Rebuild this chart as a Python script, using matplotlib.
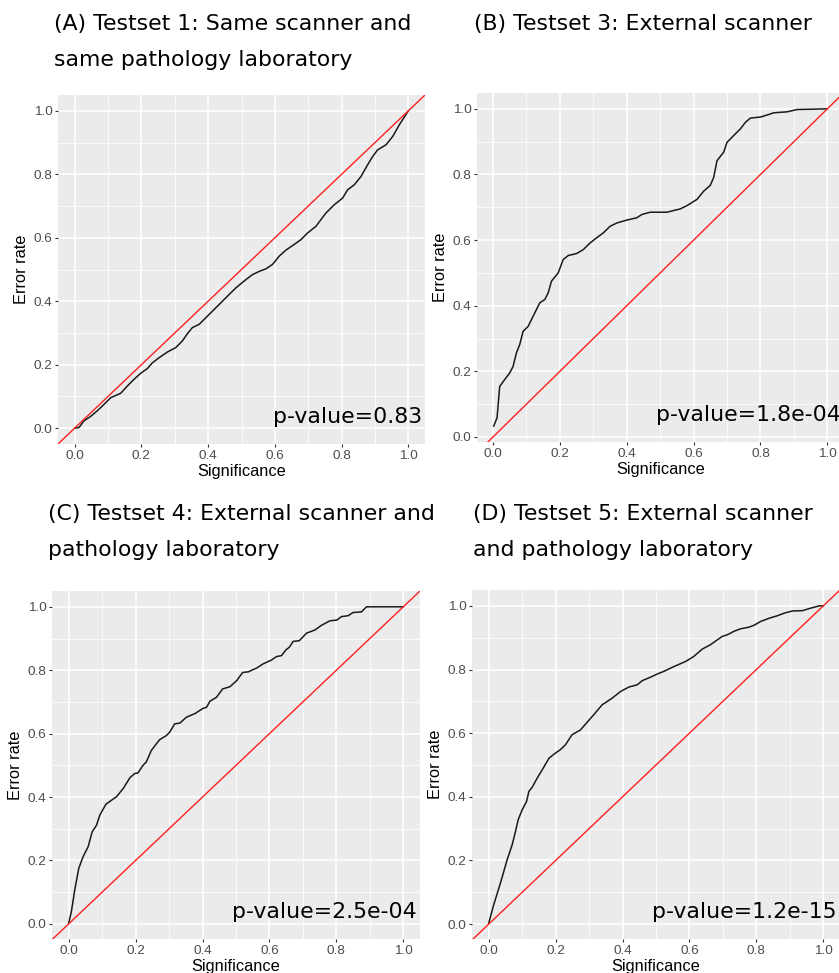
import matplotlib
matplotlib.use('Agg')
import matplotlib.pyplot as plt
from matplotlib.ticker import MultipleLocator

# ---------------- data ----------------
titles = [
    ["(A) Testset 1: Same scanner and", "same pathology laboratory"],
    ["(B) Testset 3: External scanner"],
    ["(C) Testset 4: External scanner and", "pathology laboratory"],
    ["(D) Testset 5: External scanner", "and pathology laboratory"],
]
pvalues = ["p-value=0.83", "p-value=1.8e-04", "p-value=2.5e-04", "p-value=1.2e-15"]

a_x = [0.0, 0.013, 0.028, 0.048, 0.068, 0.088, 0.108, 0.138, 0.158, 0.178, 0.198, 0.218, 0.233,
       0.253, 0.278, 0.303, 0.323, 0.338, 0.353, 0.373, 0.393, 0.418, 0.438, 0.458, 0.483, 0.513,
       0.533, 0.553, 0.573, 0.593, 0.613, 0.633, 0.658, 0.678, 0.698, 0.723, 0.753, 0.778, 0.803,
       0.818, 0.838, 0.858, 0.878, 0.893, 0.908, 0.933, 0.953, 0.973, 1.0]
a_y = [0.0, 0.002, 0.023, 0.037, 0.055, 0.075, 0.096, 0.11, 0.133, 0.154, 0.173, 0.188, 0.206,
       0.222, 0.240, 0.254, 0.275, 0.298, 0.317, 0.327, 0.348, 0.374, 0.395, 0.416, 0.442, 0.468,
       0.484, 0.494, 0.502, 0.516, 0.542, 0.561, 0.579, 0.594, 0.615, 0.636, 0.678, 0.704, 0.725,
       0.751, 0.767, 0.793, 0.830, 0.856, 0.877, 0.893, 0.919, 0.956, 1.0]

b_x = [0.002, 0.012, 0.02, 0.035, 0.05, 0.06, 0.07, 0.08, 0.09, 0.105, 0.12, 0.14, 0.155, 0.165,
       0.175, 0.195, 0.21, 0.225, 0.25, 0.27, 0.29, 0.31, 0.33, 0.35, 0.37, 0.40, 0.43, 0.445,
       0.47, 0.52, 0.56, 0.58, 0.61, 0.63, 0.65, 0.66, 0.67, 0.69, 0.70, 0.725, 0.74, 0.755, 0.77,
       0.80, 0.825, 0.84, 0.88, 0.91, 1.0]
b_y = [0.033, 0.058, 0.154, 0.175, 0.195, 0.215, 0.256, 0.282, 0.322, 0.337, 0.368, 0.409, 0.419,
       0.439, 0.475, 0.50, 0.541, 0.553, 0.559, 0.571, 0.591, 0.607, 0.622, 0.642, 0.652, 0.661,
       0.668, 0.678, 0.685, 0.685, 0.695, 0.705, 0.724, 0.749, 0.767, 0.791, 0.842, 0.868, 0.898,
       0.924, 0.939, 0.959, 0.972, 0.975, 0.983, 0.988, 0.991, 0.998, 1.0]

c_x = [0.0, 0.008, 0.018, 0.03, 0.043, 0.058, 0.07, 0.083, 0.093, 0.111, 0.128, 0.143, 0.163,
       0.183, 0.197, 0.207, 0.222, 0.232, 0.247, 0.262, 0.272, 0.292, 0.302, 0.317, 0.332, 0.352,
       0.377, 0.402, 0.412, 0.422, 0.442, 0.46, 0.482, 0.502, 0.52, 0.537, 0.562, 0.581, 0.606,
       0.621, 0.636, 0.649, 0.659, 0.671, 0.689, 0.711, 0.736, 0.756, 0.781, 0.801, 0.815, 0.835,
       0.850, 0.875, 0.890, 1.0]
c_y = [0.002, 0.039, 0.107, 0.175, 0.212, 0.243, 0.290, 0.311, 0.343, 0.377, 0.390, 0.401, 0.427,
       0.461, 0.474, 0.476, 0.500, 0.511, 0.547, 0.568, 0.581, 0.594, 0.605, 0.631, 0.633, 0.652,
       0.663, 0.680, 0.683, 0.702, 0.715, 0.741, 0.748, 0.767, 0.793, 0.795, 0.807, 0.820, 0.832,
       0.843, 0.846, 0.864, 0.872, 0.891, 0.893, 0.917, 0.927, 0.942, 0.956, 0.958, 0.969, 0.972,
       0.982, 0.984, 1.0, 1.0]

d_x = [0.0, 0.015, 0.035, 0.055, 0.07, 0.08, 0.088, 0.1, 0.113, 0.12, 0.13, 0.145, 0.16, 0.18,
       0.195, 0.214, 0.229, 0.249, 0.274, 0.294, 0.314, 0.339, 0.369, 0.394, 0.419, 0.444, 0.459,
       0.484, 0.504, 0.523, 0.553, 0.588, 0.613, 0.638, 0.663, 0.683, 0.698, 0.713, 0.733, 0.753,
       0.778, 0.793, 0.813, 0.838, 0.863, 0.883, 0.908, 0.938, 0.963, 0.988, 1.0]
d_y = [0.003, 0.061, 0.129, 0.202, 0.249, 0.291, 0.328, 0.359, 0.385, 0.417, 0.430, 0.459, 0.485,
       0.521, 0.534, 0.548, 0.563, 0.595, 0.610, 0.634, 0.658, 0.689, 0.710, 0.731, 0.745, 0.752,
       0.765, 0.776, 0.786, 0.794, 0.809, 0.825, 0.841, 0.864, 0.878, 0.893, 0.904, 0.909, 0.920,
       0.928, 0.933, 0.939, 0.951, 0.961, 0.969, 0.977, 0.984, 0.985, 0.993, 1.0, 1.0]

series = [(a_x, a_y), (b_x, b_y), (c_x, c_y), (d_x, d_y)]

# ---------------- layout (pixels) ----------------
W, H = 839, 973
fig = plt.figure(figsize=(W / 100, H / 100), dpi=100)
fig.patch.set_facecolor('white')

panels_px = [  # left, top, right, bottom of panel area
    (58, 95, 425, 444),
    (477, 93, 844, 442),
    (52, 591, 420, 939),
    (472, 590, 840, 939),
]
title_px = [  # x, baseline of first line, baseline of second line
    (54, 30, 66),
    (474, 30, 66),
    (48, 520, 556),
    (473, 520, 556),
]

AX_FONT = 'Liberation Sans'
TITLE_FONT = 'DejaVu Sans'

for i, ((l, t, r, b), (xs, ys)) in enumerate(zip(panels_px, series)):
    ax = fig.add_axes([l / W, 1 - b / H, (r - l) / W, (b - t) / H])
    ax.set_facecolor('#EBEBEB')
    for s in ax.spines.values():
        s.set_visible(False)

    xmin, xmax = min(xs), max(xs)
    ymin, ymax = min(ys), max(ys)
    ax.set_xlim(xmin - 0.05 * (xmax - xmin), xmax + 0.05 * (xmax - xmin))
    ax.set_ylim(ymin - 0.05 * (ymax - ymin), ymax + 0.05 * (ymax - ymin))

    ax.xaxis.set_major_locator(MultipleLocator(0.2))
    ax.yaxis.set_major_locator(MultipleLocator(0.2))
    ax.xaxis.set_minor_locator(MultipleLocator(0.1))
    ax.yaxis.set_minor_locator(MultipleLocator(0.1))
    ax.xaxis.set_major_formatter(plt.FuncFormatter(lambda v, p: f"{v:.1f}"))
    ax.yaxis.set_major_formatter(plt.FuncFormatter(lambda v, p: f"{v:.1f}"))
    ax.grid(which='major', color='white', linewidth=1.1)
    ax.grid(which='minor', color='white', linewidth=0.55)
    ax.set_axisbelow(True)
    ax.tick_params(which='major', length=2.3, width=0.8, color='#333333',
                   labelcolor='#4D4D4D', labelsize=9.7, pad=1.8)
    ax.tick_params(which='minor', length=0)
    for lab in ax.get_xticklabels() + ax.get_yticklabels():
        lab.set_fontfamily(AX_FONT)

    ax.plot(xs, ys, color='#1a1a1a', linewidth=1.1, zorder=3)
    ax.axline((0, 0), slope=1, color='#FF2020', linewidth=1.0, zorder=4)

    ax.set_xlabel('Significance', fontsize=11.8, family=AX_FONT, color='black', labelpad=1.5)
    ax.set_ylabel('Error rate', fontsize=11.8, family=AX_FONT, color='black', labelpad=3)

    # p-value annotation
    tx = (r - 3) / W
    ty = 1 - (b - 21) / H
    fig.text(tx, ty, pvalues[i], ha='right', va='baseline', fontsize=15.8,
             family=TITLE_FONT, color='black', zorder=10)

    # titles
    x0, y1, y2 = title_px[i]
    for line, yb in zip(titles[i], (y1, y2)):
        fig.text(x0 / W, 1 - yb / H, line, ha='left', va='baseline', fontsize=15.8,
                 family=TITLE_FONT, color='black')

fig.savefig('out.png', dpi=100, facecolor='white')
